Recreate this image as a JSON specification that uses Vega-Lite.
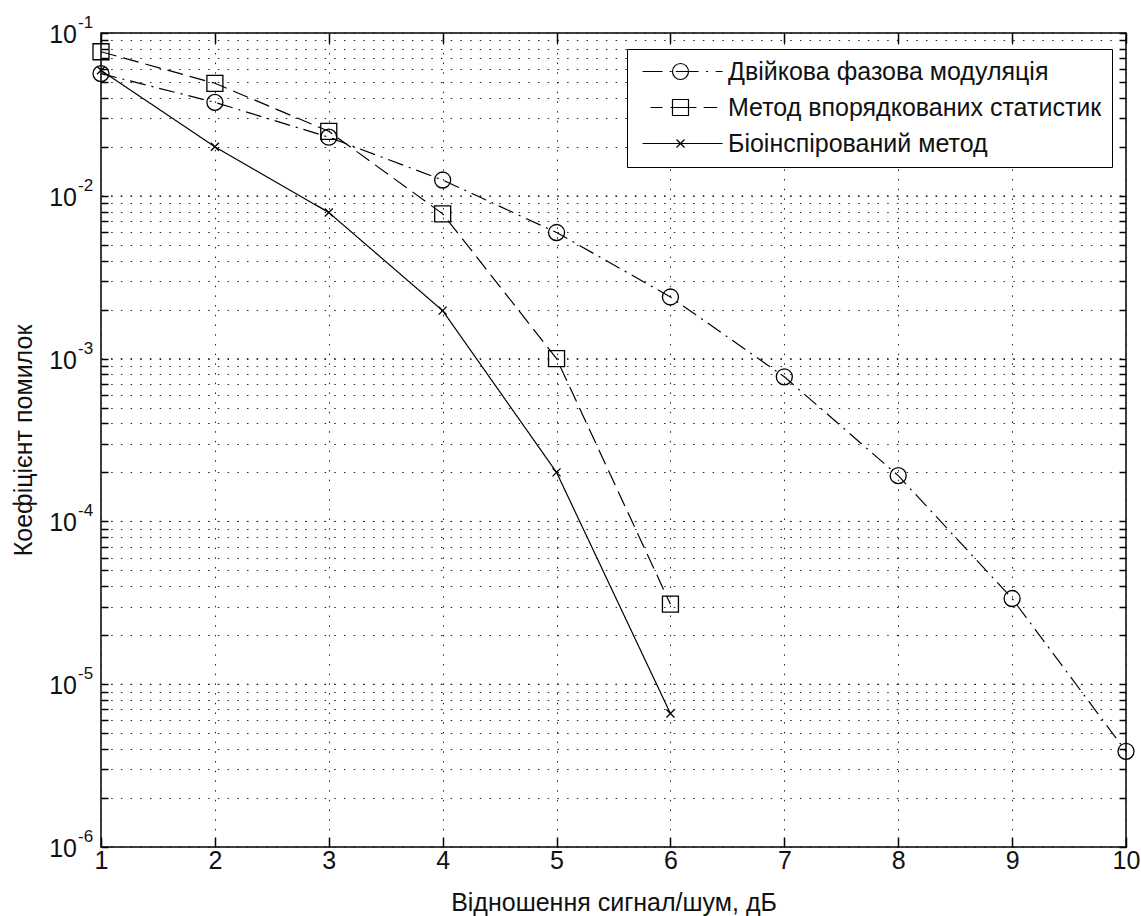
{
  "$schema": "https://vega.github.io/schema/vega-lite/v6.json",
  "width": 1025,
  "height": 814,
  "autosize": {"type": "none"},
  "padding": {"left": 101, "top": 33, "right": 15, "bottom": 69},
  "background": "white",
  "config": {
    "view": {"stroke": "black", "strokeWidth": 1.5},
    "font": "Liberation Sans"
  },
  "datasets": {
    "ber": [
      {"snr": 1, "ber": 0.0563, "series": "Двійкова фазова модуляція"},
      {"snr": 2, "ber": 0.0375, "series": "Двійкова фазова модуляція"},
      {"snr": 3, "ber": 0.0229, "series": "Двійкова фазова модуляція"},
      {"snr": 4, "ber": 0.0125, "series": "Двійкова фазова модуляція"},
      {"snr": 5, "ber": 0.00595, "series": "Двійкова фазова модуляція"},
      {"snr": 6, "ber": 0.00239, "series": "Двійкова фазова модуляція"},
      {"snr": 7, "ber": 0.000773, "series": "Двійкова фазова модуляція"},
      {"snr": 8, "ber": 0.000191, "series": "Двійкова фазова модуляція"},
      {"snr": 9, "ber": 3.36e-5, "series": "Двійкова фазова модуляція"},
      {"snr": 10, "ber": 3.87e-6, "series": "Двійкова фазова модуляція"},
      {"snr": 1, "ber": 0.0767, "series": "Метод впорядкованих статистик"},
      {"snr": 2, "ber": 0.0491, "series": "Метод впорядкованих статистик"},
      {"snr": 3, "ber": 0.0249, "series": "Метод впорядкованих статистик"},
      {"snr": 4, "ber": 0.00775, "series": "Метод впорядкованих статистик"},
      {"snr": 5, "ber": 0.001, "series": "Метод впорядкованих статистик"},
      {"snr": 6, "ber": 3.1e-5, "series": "Метод впорядкованих статистик"},
      {"snr": 1, "ber": 0.059, "series": "Біоінспірований метод"},
      {"snr": 2, "ber": 0.02, "series": "Біоінспірований метод"},
      {"snr": 3, "ber": 0.0079, "series": "Біоінспірований метод"},
      {"snr": 4, "ber": 0.00197, "series": "Біоінспірований метод"},
      {"snr": 5, "ber": 0.0002, "series": "Біоінспірований метод"},
      {"snr": 6, "ber": 6.6e-6, "series": "Біоінспірований метод"}
    ],
    "decades": [
      {"v": 0.1, "e": "-1"},
      {"v": 0.01, "e": "-2"},
      {"v": 0.001, "e": "-3"},
      {"v": 0.0001, "e": "-4"},
      {"v": 1e-5, "e": "-5"},
      {"v": 1e-6, "e": "-6"}
    ]
  },
  "layer": [
    {
      "data": {"name": "ber"},
      "mark": {"type": "line", "color": "black", "strokeWidth": 1.2},
      "encoding": {
        "x": {
          "field": "snr",
          "type": "quantitative",
          "scale": {"domain": [1, 10], "nice": false, "zero": false},
          "axis": {
            "orient": "bottom",
            "values": [1, 2, 3, 4, 5, 6, 7, 8, 9, 10],
            "domain": false,
            "grid": true,
            "gridColor": "#222",
            "gridDash": [1.5, 8.2],
            "gridWidth": 1,
            "ticks": true,
            "tickSize": -10,
            "tickColor": "black",
            "tickWidth": 1.5,
            "labelFontSize": 25,
            "labelColor": "#111",
            "labelPadding": 11,
            "labelBaseline": "top",
            "labelFlush": false,
            "title": "Відношення сигнал/шум, дБ",
            "titleFontSize": 25,
            "titleFontWeight": "normal",
            "titleColor": "#111",
            "titleY": 63,
            "titleBaseline": "alphabetic"
          }
        },
        "y": {
          "field": "ber",
          "type": "quantitative",
          "scale": {"type": "log", "domain": [1e-6, 0.1], "nice": false},
          "axis": {
            "orient": "left",
            "values": [1e-6, 2e-6, 3e-6, 4e-6, 5e-6, 6e-6, 7e-6, 8e-6, 9e-6,
                       1e-5, 2e-5, 3e-5, 4e-5, 5e-5, 6e-5, 7e-5, 8e-5, 9e-5,
                       1e-4, 2e-4, 3e-4, 4e-4, 5e-4, 6e-4, 7e-4, 8e-4, 9e-4,
                       1e-3, 2e-3, 3e-3, 4e-3, 5e-3, 6e-3, 7e-3, 8e-3, 9e-3,
                       1e-2, 2e-2, 3e-2, 4e-2, 5e-2, 6e-2, 7e-2, 8e-2, 9e-2, 0.1],
            "domain": false,
            "grid": true,
            "gridColor": "#222",
            "gridDash": [1.5, 8.2],
            "gridWidth": 1,
            "ticks": true,
            "tickSize": -7,
            "tickColor": "black",
            "tickWidth": 1.5,
            "labels": false,
            "title": "Коефіцієнт помилок",
            "titleFontSize": 25,
            "titleFontWeight": "normal",
            "titleColor": "#111",
            "titleAngle": -90,
            "titleX": -78,
            "titleY": 407,
            "titleAlign": "center",
            "titleBaseline": "middle"
          }
        },
        "strokeDash": {
          "field": "series",
          "type": "nominal",
          "scale": {
            "domain": ["Двійкова фазова модуляція", "Метод впорядкованих статистик", "Біоінспірований метод"],
            "range": [[16, 6, 2, 6], [16, 7], [1, 0]]
          },
          "legend": null
        }
      }
    },
    {
      "data": {"name": "decades"},
      "mark": {"type": "rule", "color": "#222", "strokeWidth": 1, "strokeDash": [1.5, 8.2], "strokeDashOffset": 5},
      "encoding": {
        "y": {"field": "v", "type": "quantitative", "axis": null}
      }
    },
    {
      "data": {"name": "ber"},
      "mark": {"type": "point", "filled": false, "color": "black", "strokeWidth": 1.3, "size": 256, "opacity": 1},
      "encoding": {
        "x": {"field": "snr", "type": "quantitative", "axis": null},
        "y": {"field": "ber", "type": "quantitative", "axis": null},
        "shape": {
          "field": "series",
          "type": "nominal",
          "scale": {
            "domain": ["Двійкова фазова модуляція", "Метод впорядкованих статистик", "Біоінспірований метод"],
            "range": [
              "M-1,0A1,1 0 1,1 1,0A1,1 0 1,1 -1,0Z",
              "M-1,-1H1V1H-1Z",
              "M-0.5,-0.5L0.5,0.5M-0.5,0.5L0.5,-0.5"
            ]
          },
          "legend": null
        }
      }
    },
    {
      "data": {"name": "ber"},
      "mark": {"type": "point", "filled": false, "color": "black", "strokeWidth": 1.3, "size": 256, "opacity": 0},
      "encoding": {
        "x": {
          "field": "snr",
          "type": "quantitative",
          "axis": {
            "orient": "top",
            "values": [1, 2, 3, 4, 5, 6, 7, 8, 9, 10],
            "domain": false,
            "grid": false,
            "labels": false,
            "ticks": true,
            "tickSize": -10,
            "tickColor": "black",
            "tickWidth": 1.5,
            "title": null
          }
        },
        "y": {
          "field": "ber",
          "type": "quantitative",
          "axis": {
            "orient": "right",
            "values": [1e-6, 2e-6, 3e-6, 4e-6, 5e-6, 6e-6, 7e-6, 8e-6, 9e-6,
                       1e-5, 2e-5, 3e-5, 4e-5, 5e-5, 6e-5, 7e-5, 8e-5, 9e-5,
                       1e-4, 2e-4, 3e-4, 4e-4, 5e-4, 6e-4, 7e-4, 8e-4, 9e-4,
                       1e-3, 2e-3, 3e-3, 4e-3, 5e-3, 6e-3, 7e-3, 8e-3, 9e-3,
                       1e-2, 2e-2, 3e-2, 4e-2, 5e-2, 6e-2, 7e-2, 8e-2, 9e-2, 0.1],
            "domain": false,
            "grid": false,
            "labels": false,
            "ticks": true,
            "tickSize": -7,
            "tickColor": "black",
            "tickWidth": 1.5,
            "title": null
          }
        },
        "shape": {
          "field": "series",
          "type": "nominal",
          "scale": {
            "domain": ["Двійкова фазова модуляція", "Метод впорядкованих статистик", "Біоінспірований метод"],
            "range": [
              "M-4.75,0H-2.25M-1.35,0H-1.1M-0.6,0H2.25M3.2,0H3.45M4.4,0H5.25M-1,0A1,1 0 1,1 1,0A1,1 0 1,1 -1,0Z",
              "M-3.75,0H-2.25M-1.25,0H2M2.9,0H4.6M-1,-1H1V1H-1Z",
              "M-4.75,0H5.25M-0.5,-0.5L0.5,0.5M-0.5,0.5L0.5,-0.5"
            ]
          },
          "legend": {
            "title": null,
            "orient": "none",
            "legendX": 526,
            "legendY": 16,
            "strokeColor": "black",
            "fillColor": "white",
            "padding": 10,
            "rowPadding": 10,
            "symbolOffset": 31,
            "labelOffset": 35,
            "labelFontSize": 25,
            "labelFont": "Liberation Sans",
            "labelColor": "#111",
            "labelLimit": 0,
            "symbolStrokeColor": "black",
            "symbolFillColor": "transparent",
            "symbolStrokeWidth": 1.2,
            "symbolOpacity": 1,
            "symbolSize": 256
          }
        }
      }
    },
    {
      "data": {"name": "decades"},
      "mark": {"type": "text", "text": "10", "align": "right", "baseline": "alphabetic", "dx": -24, "dy": 10, "fontSize": 25, "color": "#111"},
      "encoding": {
        "x": {"datum": 1, "type": "quantitative", "axis": null},
        "y": {"field": "v", "type": "quantitative", "axis": null}
      }
    },
    {
      "data": {"name": "decades"},
      "mark": {"type": "text", "align": "left", "baseline": "alphabetic", "dx": -23, "dy": -5, "fontSize": 17, "color": "#111"},
      "encoding": {
        "x": {"datum": 1, "type": "quantitative", "axis": null},
        "y": {"field": "v", "type": "quantitative", "axis": null},
        "text": {"field": "e"}
      }
    }
  ],
  "resolve": {
    "scale": {"shape": "independent"},
    "axis": {"x": "independent", "y": "independent"}
  }
}
